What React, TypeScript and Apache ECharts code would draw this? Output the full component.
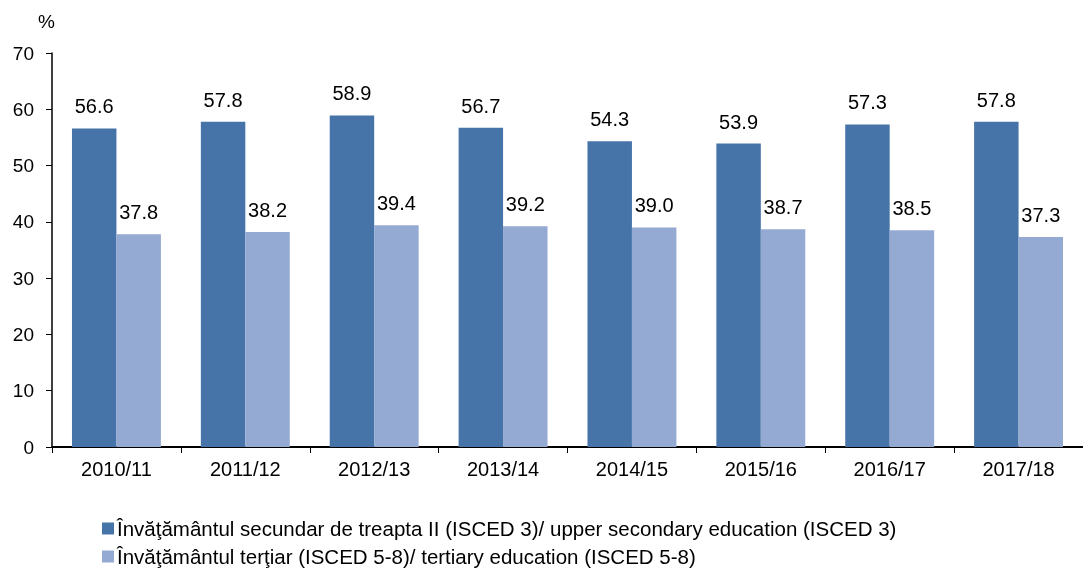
import React, { useEffect, useRef } from "react";
import * as echarts from "echarts";

const categories = ["2010/11", "2011/12", "2012/13", "2013/14", "2014/15", "2015/16", "2016/17", "2017/18"];
const upperSecondary = [56.6, 57.8, 58.9, 56.7, 54.3, 53.9, 57.3, 57.8];
const tertiary = [37.8, 38.2, 39.4, 39.2, 39.0, 38.7, 38.5, 37.3];
const seriesNames = [
  "Învăţământul secundar de treapta II (ISCED 3)/ upper secondary education (ISCED 3)",
  "Învăţământul terţiar (ISCED 5-8)/ tertiary education (ISCED 5-8)",
];
const yUnit = "%";

export default function App() {
  const ref = useRef<HTMLDivElement>(null);
  useEffect(() => {
    if (!ref.current) return;
    const chart = echarts.init(ref.current, null, { renderer: "svg" });
    const font = "Arial, 'Liberation Sans', sans-serif";
    const labelStyle = {
      show: true,
      position: "top",
      distance: 12,
      fontSize: 20,
      color: "#000",
      fontFamily: font,
      formatter: (p: any) => Number(p.value).toFixed(1),
    };
    const legendBase = {
      orient: "horizontal",
      left: 102,
      padding: 0,
      itemWidth: 12,
      itemHeight: 12,
      icon: "rect",
      textStyle: { fontSize: 20.5, color: "#000", fontFamily: font, padding: [0, 0, 0, -2] },
    };
    chart.setOption({
      animation: false,
      textStyle: { fontFamily: font },
      grid: { left: 52, top: 53, right: -9, bottom: 121, containLabel: false },
      graphic: [
        {
          type: "text",
          left: 38,
          top: 12,
          style: { text: yUnit, fontSize: 19, fill: "#000", fontFamily: font },
        },
      ],
      legend: [
        { ...legendBase, top: 518, data: [seriesNames[0]] },
        { ...legendBase, top: 546, data: [seriesNames[1]] },
      ],
      xAxis: {
        type: "category",
        data: categories,
        axisLine: { lineStyle: { color: "#000", width: 1.8 } },
        axisTick: { show: true, length: 6, lineStyle: { color: "#000" } },
        axisLabel: { fontSize: 20, color: "#000", margin: 12, fontFamily: font },
      },
      yAxis: {
        type: "value",
        min: 0,
        max: 70,
        interval: 10,
        splitLine: { show: false },
        axisLine: { show: true, lineStyle: { color: "#000", width: 1.5 } },
        axisTick: { show: true, length: 6, lineStyle: { color: "#000" } },
        axisLabel: { fontSize: 19, color: "#000", margin: 18, fontFamily: font },
      },
      series: [
        {
          name: seriesNames[0],
          type: "bar",
          data: upperSecondary,
          barGap: "0%",
          barCategoryGap: "31%",
          itemStyle: { color: "#4674A8" },
          label: labelStyle,
        },
        {
          name: seriesNames[1],
          type: "bar",
          data: tertiary,
          barGap: "0%",
          barCategoryGap: "31%",
          itemStyle: { color: "#95AAD2" },
          label: labelStyle,
        },
      ],
    });
    return () => chart.dispose();
  }, []);
  return <div ref={ref} style={{ position: "fixed", left: 0, top: 0, width: 1083, height: 568 }} />;
}
